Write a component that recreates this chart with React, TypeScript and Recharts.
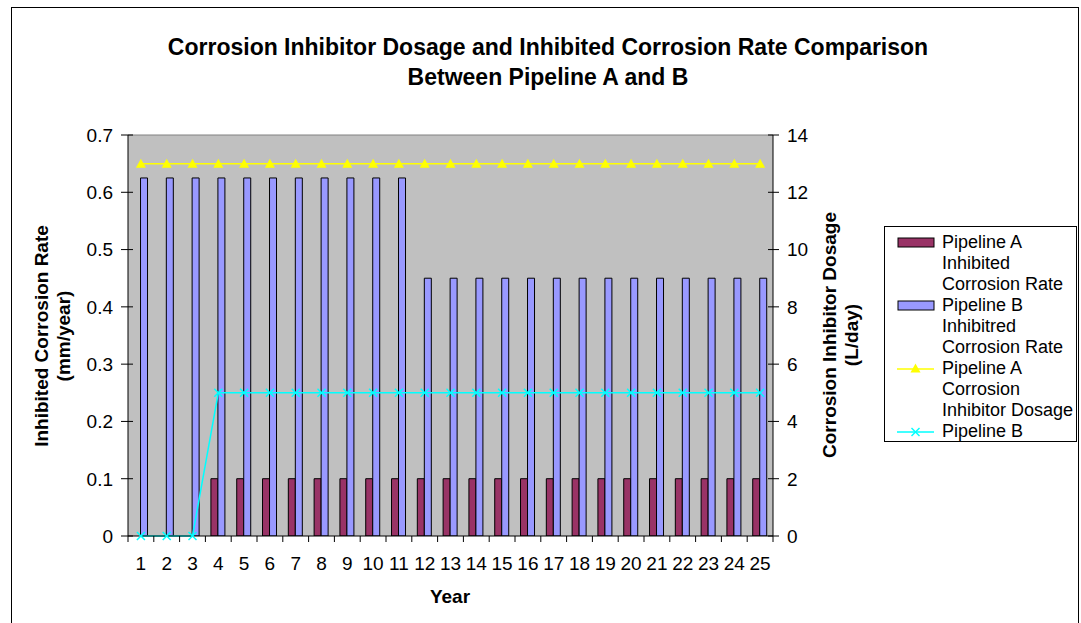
import React from 'react';
import {
  ComposedChart,
  Bar,
  Line,
  XAxis,
  YAxis,
  CartesianGrid,
  ReferenceLine,
  Legend,
} from 'recharts';

// 数据
const years = [
  '1', '2', '3', '4', '5', '6', '7', '8', '9', '10', '11', '12', '13',
  '14', '15', '16', '17', '18', '19', '20', '21', '22', '23', '24', '25',
];
const rateA = [0, 0, 0, 0.1, 0.1, 0.1, 0.1, 0.1, 0.1, 0.1, 0.1, 0.1, 0.1, 0.1, 0.1, 0.1, 0.1, 0.1, 0.1, 0.1, 0.1, 0.1, 0.1, 0.1, 0.1];
const rateB = [
  0.625, 0.625, 0.625, 0.625, 0.625, 0.625, 0.625, 0.625, 0.625, 0.625, 0.625,
  0.45, 0.45, 0.45, 0.45, 0.45, 0.45, 0.45, 0.45, 0.45, 0.45, 0.45, 0.45, 0.45, 0.45,
];
const dosageA = [13, 13, 13, 13, 13, 13, 13, 13, 13, 13, 13, 13, 13, 13, 13, 13, 13, 13, 13, 13, 13, 13, 13, 13, 13];
const dosageB = [0, 0, 0, 5, 5, 5, 5, 5, 5, 5, 5, 5, 5, 5, 5, 5, 5, 5, 5, 5, 5, 5, 5, 5, 5];
const leftTicks = [0, 0.1, 0.2, 0.3, 0.4, 0.5, 0.6, 0.7];
const rightTicks = [0, 2, 4, 6, 8, 10, 12, 14];

const legendOrder = ['rateA', 'rateB', 'dosageA', 'dosageB'];
const legendLabels: Record<string, string[]> = {
  rateA: ['Pipeline A', 'Inhibited', 'Corrosion Rate'],
  rateB: ['Pipeline B', 'Inhibitred', 'Corrosion Rate'],
  dosageA: ['Pipeline A', 'Corrosion', 'Inhibitor Dosage'],
  dosageB: ['Pipeline B'],
};

const chartData = years.map((year, i) => ({
  year,
  rateA: rateA[i],
  rateB: rateB[i],
  dosageA: dosageA[i],
  dosageB: dosageB[i],
}));

const FONT = '"Liberation Sans", Arial, sans-serif';
const W = 1081;
const H = 623;
const PLOT_LEFT = 128;
const PLOT_RIGHT = 773;
const PLOT_TOP = 135;
const PLOT_BOTTOM = 536;
const BAND = (PLOT_RIGHT - PLOT_LEFT) / years.length;
const TICK_FONT = 19;

const COLOR_A = '#993366';
const COLOR_B = '#9999FF';
const YELLOW = '#FFFF00';
const CYAN = '#00FFFF';

function Triangle({ cx, cy, fill }: any) {
  if (cx == null || cy == null) return null;
  return <path d={`M${cx},${cy - 5} L${cx + 5},${cy + 4} L${cx - 5},${cy + 4} Z`} fill={fill} />;
}

function Cross({ cx, cy, stroke }: any) {
  if (cx == null || cy == null) return null;
  return (
    <g stroke={stroke} strokeWidth={1.5}>
      <line x1={cx - 4} y1={cy - 4} x2={cx + 4} y2={cy + 4} />
      <line x1={cx - 4} y1={cy + 4} x2={cx + 4} y2={cy - 4} />
    </g>
  );
}

// x 轴刻度线画在类别之间
function YearTick({ x, y, payload, index }: any) {
  return (
    <g>
      {index === 0 && (
        <line x1={x - BAND / 2} y1={y} x2={x - BAND / 2} y2={y + 6} stroke="#000" />
      )}
      <line x1={x + BAND / 2} y1={y} x2={x + BAND / 2} y2={y + 6} stroke="#000" />
      <text x={x} y={y + 34} textAnchor="middle" fontSize={TICK_FONT} fontFamily={FONT} fill="#000">
        {payload.value}
      </text>
    </g>
  );
}

// y 轴刻度线穿过轴线
function LeftTick({ x, y, payload }: any) {
  return (
    <g>
      <line x1={x - 7} y1={y} x2={x + 5} y2={y} stroke="#000" />
      <text x={x - 15} y={y} dy="0.36em" textAnchor="end" fontSize={TICK_FONT} fontFamily={FONT} fill="#000">
        {payload.value === 0 ? '0' : String(payload.value)}
      </text>
    </g>
  );
}

function RightTick({ x, y, payload }: any) {
  return (
    <g>
      <line x1={x - 5} y1={y} x2={x + 6} y2={y} stroke="#000" />
      <text x={x + 14} y={y} dy="0.36em" textAnchor="start" fontSize={TICK_FONT} fontFamily={FONT} fill="#000">
        {payload.value}
      </text>
    </g>
  );
}

function LegendBox({ payload }: any) {
  const items = [...(payload || [])].sort(
    (a: any, b: any) => legendOrder.indexOf(a.dataKey) - legendOrder.indexOf(b.dataKey),
  );
  return (
    <div
      style={{
        width: 193,
        height: 216,
        boxSizing: 'border-box',
        border: '1px solid #000',
        background: '#fff',
        padding: '5px 0 0 12px',
        overflow: 'hidden',
        fontFamily: FONT,
        fontSize: 18,
        lineHeight: '21px',
        color: '#000',
      }}
    >
      {items.map((entry: any) => {
        const key = entry.dataKey as string;
        const isBar = key === 'rateA' || key === 'rateB';
        return (
          <div key={key} style={{ display: 'flex' }}>
            <svg width={45} height={21} style={{ flex: 'none' }}>
              {isBar ? (
                <rect x={1} y={6} width={36} height={9} fill={entry.color} stroke="#000" />
              ) : (
                <g>
                  <line x1={0} y1={11} x2={37} y2={11} stroke={entry.color} strokeWidth={1.5} />
                  {key === 'dosageA' ? (
                    <Triangle cx={18.5} cy={10.5} fill={YELLOW} />
                  ) : (
                    <Cross cx={18.5} cy={11} stroke={CYAN} />
                  )}
                </g>
              )}
            </svg>
            <div>
              {legendLabels[key].map((t) => (
                <div key={t} style={{ whiteSpace: 'nowrap' }}>{t}</div>
              ))}
            </div>
          </div>
        );
      })}
    </div>
  );
}

const labelStyle: React.CSSProperties = {
  position: 'absolute',
  fontFamily: FONT,
  fontWeight: 'bold',
  fontSize: 19,
  lineHeight: '22px',
  textAlign: 'center',
  whiteSpace: 'nowrap',
  color: '#000',
};

export default function App() {
  return (
    <div style={{ position: 'absolute', left: 0, top: 0, width: W, height: H, overflow: 'hidden', background: '#fff' }}>
      <div
        style={{
          position: 'absolute',
          left: 11,
          top: 7,
          width: 1068,
          height: 640,
          border: '1px solid #000',
          boxSizing: 'border-box',
        }}
      />
      <div
        style={{
          ...labelStyle,
          left: 548,
          top: 32,
          transform: 'translateX(-50%)',
          fontSize: 23,
          lineHeight: '30px',
        }}
      >
        Corrosion Inhibitor Dosage and Inhibited Corrosion Rate Comparison
        <br />
        Between Pipeline A and B
      </div>
      <div style={{ ...labelStyle, left: 53, top: 336, transform: 'translate(-50%, -50%) rotate(-90deg)' }}>
        Inhibited Corrosion Rate
        <br />
        (mm/year)
      </div>
      <div style={{ ...labelStyle, left: 841, top: 335, transform: 'translate(-50%, -50%) rotate(-90deg)' }}>
        Corrosion Inhibitor Dosage
        <br />
        (L/day)
      </div>
      <div style={{ ...labelStyle, left: 450, top: 597, transform: 'translate(-50%, -50%)' }}>Year</div>

      <ComposedChart
        width={W}
        height={H}
        data={chartData}
        margin={{ top: PLOT_TOP, right: W - PLOT_RIGHT - 60, bottom: H - PLOT_BOTTOM - 40, left: PLOT_LEFT - 60 }}
        barCategoryGap="21.4%"
        barGap={0}
        style={{ position: 'absolute', left: 0, top: 0 }}
      >
        <CartesianGrid yAxisId="left" fill="#C0C0C0" horizontal={false} vertical={false} />
        <XAxis
          dataKey="year"
          height={40}
          tickLine={false}
          tickSize={0}
          tickMargin={0}
          axisLine={{ stroke: '#000' }}
          tick={<YearTick />}
          interval={0}
        />
        <YAxis
          yAxisId="left"
          width={60}
          domain={[0, 0.7]}
          ticks={leftTicks}
          tick={<LeftTick />}
          tickSize={0}
          tickMargin={0}
          tickLine={false}
          axisLine={{ stroke: '#000' }}
          allowDataOverflow
        />
        <YAxis
          yAxisId="right"
          orientation="right"
          width={60}
          domain={[0, 14]}
          ticks={rightTicks}
          tick={<RightTick />}
          tickSize={0}
          tickMargin={0}
          tickLine={false}
          axisLine={{ stroke: '#000' }}
        />
        <ReferenceLine yAxisId="left" y={0.7} stroke="#808080" />
        <Bar yAxisId="left" dataKey="rateA" name="Pipeline A Inhibited Corrosion Rate" fill={COLOR_A} stroke="#000" strokeWidth={1} isAnimationActive={false} />
        <Bar yAxisId="left" dataKey="rateB" name="Pipeline B Inhibitred Corrosion Rate" fill={COLOR_B} stroke="#000" strokeWidth={1} isAnimationActive={false} />
        <Line
          yAxisId="right"
          dataKey="dosageA"
          name="Pipeline A Corrosion Inhibitor Dosage"
          stroke={YELLOW}
          strokeWidth={1.5}
          dot={<Triangle fill={YELLOW} />}
          activeDot={false}
          isAnimationActive={false}
        />
        <Line
          yAxisId="right"
          dataKey="dosageB"
          name="Pipeline B Corrosion Inhibitor Dosage"
          stroke={CYAN}
          strokeWidth={1.5}
          dot={<Cross stroke={CYAN} />}
          activeDot={false}
          isAnimationActive={false}
        />
        <Legend
          layout="vertical"
          align="center"
          verticalAlign="middle"
          content={<LegendBox />}
          wrapperStyle={{ position: 'absolute', left: 884, top: 226, width: 193, height: 216 }}
        />
      </ComposedChart>
    </div>
  );
}
